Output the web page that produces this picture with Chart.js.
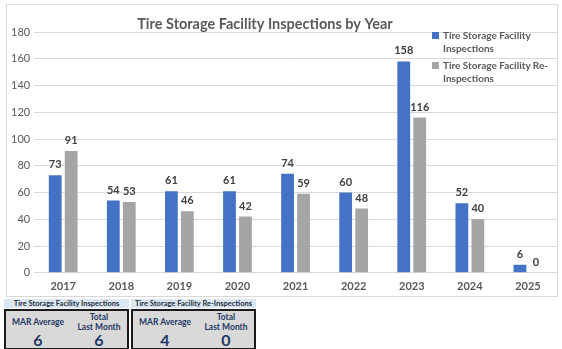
<!DOCTYPE html>
<html>
<head>
<meta charset="utf-8">
<script src="https://cdn.jsdelivr.net/npm/chart.js@4.4.1/dist/chart.umd.min.js"></script>
<style>
  body { margin: 0; background: #fff; font-family: Lato, "Open Sans", sans-serif; }
  #frame { position: absolute; left: 6px; top: 4px; width: 552px; height: 293px; border: 1px solid #d9d9d9; box-sizing: border-box; }
  #legend { position: absolute; left: 432px; top: 29px; font-size: 10px; font-weight: bold; color: #595959; line-height: 13px; }
  #legend .item { position: relative; padding-left: 11px; margin-bottom: 4px; }
  #legend .sw { position: absolute; left: 0; top: 3px; width: 7px; height: 7px; }
  .panel { position: absolute; top: 299px; width: 125px; }
  .panel .head { height: 9px; background: #dce6f1; font-size: 7.5px; font-weight: bold; color: #1f2d3d; text-align: center; line-height: 9px; white-space: nowrap; }
  .panel .box { margin-top: 1px; height: 41px; background: #d9d9d9; border: 2px solid #1a1a1a; box-sizing: border-box; position: relative; color: #1f3864; font-weight: bold; }
  .cell { position: absolute; top: 0; width: 60px; text-align: center; }
  .cell .lbl { font-size: 8.5px; line-height: 10px; height: 21px; display: flex; align-items: center; justify-content: center; }
  .cell .num { font-size: 16px; line-height: 16px; margin-top: 0px; color: #1f3864; }
</style>
</head>
<body>
<div id="frame"><canvas id="inspChart"></canvas></div>
<div id="legend">
  <div class="item"><span class="sw" style="background:#4472c4"></span>Tire Storage Facility<br>Inspections</div>
  <div class="item"><span class="sw" style="background:#a5a5a5"></span>Tire Storage Facility Re-<br>Inspections</div>
</div>

<div class="panel" style="left:4px">
  <div class="head">Tire Storage Facility Inspections</div>
  <div class="box">
    <div class="cell" style="left:2px"><div class="lbl">MAR Average</div><div class="num" id="marInsp"></div></div>
    <div class="cell" style="left:63px"><div class="lbl">Total<br>Last Month</div><div class="num" id="lastInsp"></div></div>
  </div>
</div>
<div class="panel" style="left:131px">
  <div class="head">Tire Storage Facility Re-Inspections</div>
  <div class="box">
    <div class="cell" style="left:2px"><div class="lbl">MAR Average</div><div class="num" id="marReinsp"></div></div>
    <div class="cell" style="left:63px"><div class="lbl">Total<br>Last Month</div><div class="num" id="lastReinsp"></div></div>
  </div>
</div>

<script>
const years = ['2017', '2018', '2019', '2020', '2021', '2022', '2023', '2024', '2025'];
const inspections = [73, 54, 61, 61, 74, 60, 158, 52, 6];
const reinspections = [91, 53, 46, 42, 59, 48, 116, 40, 0];

// summary boxes under the chart
const inspSummary = [6, 6];    // MAR average, total last month
const reinspSummary = [4, 0];

document.getElementById('marInsp').textContent = inspSummary[0];
document.getElementById('lastInsp').textContent = inspSummary[1];
document.getElementById('marReinsp').textContent = reinspSummary[0];
document.getElementById('lastReinsp').textContent = reinspSummary[1];

const FONT = 'Lato, "Open Sans", sans-serif';

// values above each bar + the title
const labelPlugin = {
    id: 'barLabels',
    afterDatasetsDraw(chart) {
        const ctx = chart.ctx;
        ctx.save();
        ctx.font = 'bold 11px ' + FONT;
        ctx.fillStyle = '#404040';
        ctx.textAlign = 'center';
        ctx.textBaseline = 'bottom';
        chart.data.datasets.forEach((ds, i) => {
            chart.getDatasetMeta(i).data.forEach((bar, j) => {
                ctx.fillText(ds.data[j], bar.x, bar.y - 5);
            });
        });
        ctx.font = 'bold 14.5px ' + FONT;
        ctx.fillStyle = '#595959';
        ctx.textBaseline = 'middle';
        ctx.fillText('Tire Storage Facility Inspections by Year', 258, 19);
        ctx.restore();
    }
};

const config = {
    type: 'bar',
    data: {
        labels: years,
        datasets: [
            {
                label: 'Tire Storage Facility Inspections',
                data: inspections,
                backgroundColor: '#4472c4',
            },
            {
                label: 'Tire Storage Facility Re-Inspections',
                data: reinspections,
                backgroundColor: '#a5a5a5',
            },
        ],
    },
    options: {
        responsive: true,
        maintainAspectRatio: false,
        animation: false,
        categoryPercentage: 0.55,
        barPercentage: 0.8,
        layout: { padding: { top: 27, right: 0, left: 0, bottom: -4 } },
        plugins: {
            legend: { display: false },
            title: { display: false },
            tooltip: { enabled: false },
        },
        scales: {
            x: {
                grid: { display: false, drawTicks: false },
                border: { display: false },
                ticks: { color: '#595959', font: { family: FONT, size: 11, weight: 'bold' }, padding: 7 },
            },
            y: {
                min: 0,
                max: 180,
                ticks: { stepSize: 20, color: '#595959', font: { family: FONT, size: 11 }, padding: 4 },
                grid: { color: '#d9d9d9', drawTicks: false },
                border: { display: false },
            },
        },
    },
    plugins: [labelPlugin],
};

var ctx = document.getElementById('inspChart').getContext('2d');
var inspChart = new Chart(ctx, config);
</script>
</body>
</html>
